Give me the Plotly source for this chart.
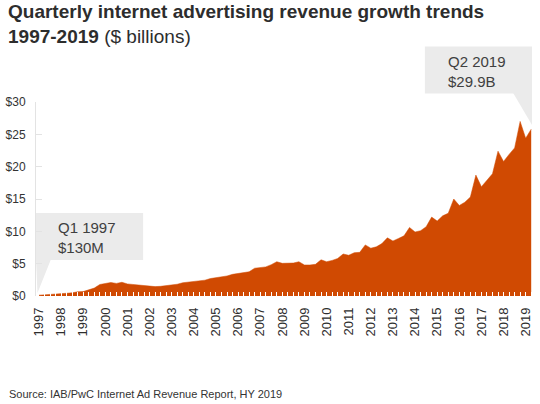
import plotly.graph_objects as go

# ---------------- data ----------------
years = list(range(1997, 2020))
quarter_labels = []
for y in range(1997, 2020):
    for q in range(1, 5):
        if y == 2019 and q > 2:
            break
        quarter_labels.append(f"Q{q} {y}")

revenue = [
    0.13, 0.21, 0.23, 0.34,   # 1997
    0.35, 0.42, 0.49, 0.66,   # 1998
    0.69, 0.93, 1.22, 1.78,   # 1999
    1.92, 2.09, 1.95, 2.12,   # 2000
    1.87, 1.77, 1.64, 1.60,   # 2001
    1.50, 1.45, 1.50, 1.62,   # 2002
    1.68, 1.82, 2.05, 2.15,   # 2003
    2.25, 2.30, 2.45, 2.70,   # 2004
    2.80, 2.95, 3.10, 3.35,   # 2005
    3.45, 3.60, 3.75, 4.30,   # 2006
    4.40, 4.50, 4.85, 5.30,   # 2007
    5.05, 5.05, 5.10, 5.30,   # 2008
    4.80, 4.80, 4.90, 5.60,   # 2009
    5.30, 5.50, 5.80, 6.50,   # 2010
    6.30, 6.70, 6.75, 7.90,   # 2011
    7.40, 7.60, 8.10, 9.00,   # 2012
    8.50, 8.90, 9.30, 10.60,  # 2013
    9.90, 10.10, 10.70, 12.20,  # 2014
    11.60, 12.40, 12.80, 15.00,  # 2015
    14.00, 14.50, 15.30, 18.70,  # 2016
    16.90, 17.90, 18.90, 22.40,  # 2017
    20.80, 21.90, 22.90, 27.00,  # 2018
    24.40, 25.80,              # 2019
]
y_ticks = [0, 5, 10, 15, 20, 25, 30]
y_tick_text = ["$0", "$5", "$10", "$15", "$20", "$25", "$30"]

# numeric x position of each quarter
x_pos = [int(l.split()[1]) + (int(l[1]) - 1) / 4 for l in quarter_labels]

# ---------------- layout geometry (pixels) ----------------
W_PX, H_PX = 540, 404
L, R, T, B = 32, 534, 102, 296


def px(xp):
    return (xp - L) / (R - L)


def py(yp):
    return (B - yp) / (B - T)


ORANGE = "#d04a02"
BOX = "#ebebeb"
TXT = "#404040"
FONT = "Liberation Sans, Arial, sans-serif"

fig = go.Figure()
fig.add_trace(go.Scatter(
    x=x_pos, y=revenue, mode="lines", fill="tozeroy",
    line=dict(color=ORANGE, width=0.5), fillcolor=ORANGE,
    hoverinfo="skip", showlegend=False,
))

shapes = [
    # Q1 1997 callout box + pointer
    dict(type="rect", xref="paper", yref="paper", x0=px(32), x1=px(140), y0=py(260), y1=py(213),
         fillcolor=BOX, line=dict(width=0), layer="below"),
    dict(type="path", xref="paper", yref="paper",
         path=f"M {px(32)},{py(259.5)} L {px(47)},{py(259.5)} L {px(33.5)},{py(293)} Z",
         fillcolor=BOX, line=dict(width=0), layer="below"),
    # Q2 2019 callout box + pointer
    dict(type="rect", xref="paper", yref="paper", x0=px(424), x1=px(532), y0=py(93.5), y1=py(46.5),
         fillcolor=BOX, line=dict(width=0), layer="below"),
    dict(type="path", xref="paper", yref="paper",
         path=f"M {px(513)},{py(93)} L {px(532)},{py(93)} L {px(532)},{py(125)} Z",
         fillcolor=BOX, line=dict(width=0), layer="below"),
]

annotations = [
    dict(xref="paper", yref="paper", x=px(2), y=py(-1), xanchor="left", yanchor="top",
         align="left", showarrow=False,
         text="<b>Quarterly internet advertising revenue growth trends</b><br>"
              "<b>1997-2019</b> ($ billions)",
         font=dict(family=FONT, size=19, color="#2d2d2d")),
    dict(xref="paper", yref="paper", x=px(52), y=py(237.5), xanchor="left", yanchor="middle",
         align="left", showarrow=False, text="Q1 1997<br>$130M",
         font=dict(family=FONT, size=15, color=TXT)),
    dict(xref="paper", yref="paper", x=px(445), y=py(71.2), xanchor="left", yanchor="middle",
         align="left", showarrow=False, text="Q2 2019<br>$29.9B",
         font=dict(family=FONT, size=15, color=TXT)),
    dict(xref="paper", yref="paper", x=px(3), y=py(393.5), xanchor="left", yanchor="middle",
         align="left", showarrow=False,
         text="Source: IAB/PwC Internet Ad Revenue Report, HY 2019",
         font=dict(family=FONT, size=11, color="#333333")),
]

x0_year = 1997 - 3 / 22.3
x1_year = 1997 + (R - 35) / 22.3

fig.update_layout(
    width=W_PX, height=H_PX,
    margin=dict(l=L, r=W_PX - R, t=T, b=H_PX - B, pad=0),
    paper_bgcolor="white", plot_bgcolor="white",
    font=dict(family=FONT, color="#333333"),
    shapes=shapes, annotations=annotations,
    xaxis=dict(
        range=[x0_year, x1_year], tickmode="array", tickvals=years,
        ticktext=[str(y) for y in years], tickangle=-90,
        tickfont=dict(family=FONT, size=13, color="#2d2d2d"),
        ticks="inside", ticklen=4, tickcolor="white", tickwidth=1,
        minor=dict(ticks="inside", dtick=0.25, tick0=1997, ticklen=4, tickcolor="white", tickwidth=1),
        showgrid=False, zeroline=False, showline=False, ticklabelstandoff=8,
        fixedrange=True,
    ),
    yaxis=dict(
        range=[0, 30], tickmode="array", tickvals=y_ticks, ticktext=y_tick_text,
        tickfont=dict(family=FONT, size=12, color="#333333"),
        ticks="inside", ticklen=6, tickcolor="#e3e3e3", tickwidth=1,
        showline=True, linecolor="#e3e3e3", linewidth=1,
        showgrid=False, zeroline=False, ticklabelstandoff=7, fixedrange=True,
    ),
)

fig.write_html(
    "out.html",
    config={"displayModeBar": False},
    post_script="document.body.style.margin='0';document.body.style.overflow='hidden';",
)
